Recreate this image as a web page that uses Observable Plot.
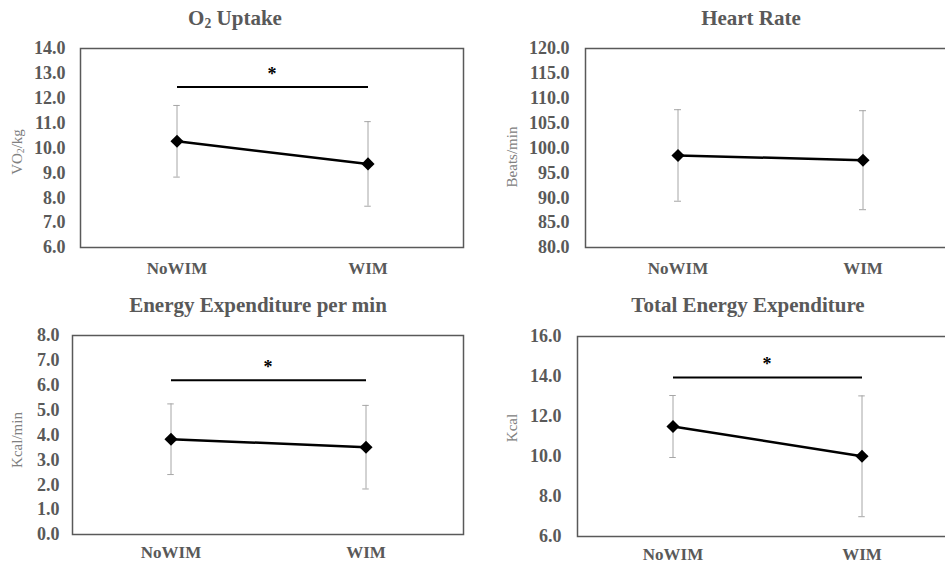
<!DOCTYPE html>
<html>
<head>
<meta charset="utf-8">
<script src="https://cdn.jsdelivr.net/npm/d3@7"></script>
<script src="https://cdn.jsdelivr.net/npm/@observablehq/plot@0.6"></script>
<style>
  html, body { margin: 0; padding: 0; background: #fff; }
  #root { position: relative; width: 945px; height: 563px; overflow: hidden; background: #fff;
          font-family: 'Liberation Serif', 'Times New Roman', serif; }
  .panel { position: absolute; }
  .panel svg { max-width: none !important; display: block; }
  .panel svg text { font-family: 'Liberation Serif', 'Times New Roman', serif !important; }
  .title { position: absolute; transform: translateX(-50%); white-space: nowrap; font-size: 21px; line-height: 21px;
           font-weight: bold; color: #595959; }
  .title sub { font-size: 0.65em; vertical-align: -0.25em; line-height: 0; }
  .ylab { position: absolute; transform: translate(-50%, -50%) rotate(-90deg); white-space: nowrap; font-size: 15px;
          line-height: 15px; color: #808080; }
  .ylab sub { font-size: 0.65em; vertical-align: -0.25em; line-height: 0; }
</style>
</head>
<body>
<div id="root"></div>
<script>
// ---- Data ----
const groups = ["NoWIM", "WIM"];

const o2Mean = [10.27, 9.36];
const o2SD = [1.44, 1.70];
const o2Ticks = [6, 7, 8, 9, 10, 11, 12, 13, 14];
const o2Sig = 12.45;

const hrMean = [98.5, 97.55];
const hrSD = [9.2, 9.95];
const hrTicks = [80, 85, 90, 95, 100, 105, 110, 115, 120];
const hrSig = null;

const eeMean = [3.83, 3.51];
const eeSD = [1.42, 1.68];
const eeTicks = [0, 1, 2, 3, 4, 5, 6, 7, 8];
const eeSig = 6.2;

const teMean = [11.5, 10.01];
const teSD = [1.55, 3.02];
const teTicks = [6, 8, 10, 12, 14, 16];
const teSig = 13.95;

const titles = ["O<sub>2</sub> Uptake", "Heart Rate", "Energy Expenditure per min", "Total Energy Expenditure"];
const yLabels = ["VO<sub>2</sub>/kg", "Beats/min", "Kcal/min", "Kcal"];

// ---- Drawing ----
const root = document.getElementById("root");

function panel({means, sds, ticks, sig, left, top, width, height, ml, mr, mt, mb, xpad, ypad}) {
  const data = groups.map((g, i) => ({g, m: means[i], lo: means[i] - sds[i], hi: means[i] + sds[i]}));
  const bw = (width - ml - mr) / 2;
  const capInset = (bw - 7) / 2;
  const sigData = sig == null ? [] : [{from: groups[0], to: groups[1], y: sig}];
  const chart = Plot.plot({
    width, height,
    marginLeft: ml, marginRight: mr, marginTop: mt, marginBottom: mb,
    x: {type: "band", domain: groups, padding: 0},
    y: {domain: [ticks[0], ticks[ticks.length - 1]]},
    style: {fontFamily: "'Liberation Serif', 'Times New Roman', serif", background: "transparent", overflow: "visible"},
    marks: [
      Plot.frame({stroke: "#595959", strokeWidth: 1.5}),
      Plot.axisY({ticks, tickFormat: d => d.toFixed(1), tickSize: 0, tickPadding: ypad, fontSize: 18,
                  fontWeight: "bold", fill: "#595959", label: null}),
      Plot.axisX({tickSize: 0, tickPadding: xpad, fontSize: 17, fontWeight: "bold", fill: "#595959", label: null}),
      Plot.link(sigData, {x1: "from", x2: "to", y1: "y", y2: "y", stroke: "#000", strokeWidth: 2}),
      Plot.text(sigData, {y: "y", text: () => "*", dy: -13, fontSize: 18, fontWeight: "bold", fill: "#000"}),
      Plot.ruleX(data, {x: "g", y1: "lo", y2: "hi", stroke: "#a6a6a6", strokeWidth: 1}),
      Plot.tickY(data, {x: "g", y: "hi", stroke: "#a6a6a6", strokeWidth: 1, insetLeft: capInset, insetRight: capInset}),
      Plot.tickY(data, {x: "g", y: "lo", stroke: "#a6a6a6", strokeWidth: 1, insetLeft: capInset, insetRight: capInset}),
      Plot.line(data, {x: "g", y: "m", stroke: "#000", strokeWidth: 2.5}),
      Plot.dot(data, {x: "g", y: "m", symbol: "diamond2", r: 5.9, fill: "#000", stroke: "none"})
    ]
  });
  const wrap = document.createElement("div");
  wrap.className = "panel";
  wrap.style.left = left + "px";
  wrap.style.top = top + "px";
  wrap.style.width = width + "px";
  wrap.style.height = height + "px";
  wrap.appendChild(chart);
  root.appendChild(wrap);
}

panel({means: o2Mean, sds: o2SD, ticks: o2Ticks, sig: o2Sig,
       left: 0, top: 0, width: 472, height: 282, ml: 80, mr: 9, mt: 48, mb: 35, xpad: 14, ypad: 15});
panel({means: hrMean, sds: hrSD, ticks: hrTicks, sig: hrSig,
       left: 472, top: 0, width: 493, height: 282, ml: 113, mr: 10, mt: 48, mb: 35, xpad: 14, ypad: 16});
panel({means: eeMean, sds: eeSD, ticks: eeTicks, sig: eeSig,
       left: 0, top: 282, width: 472, height: 281, ml: 72, mr: 9, mt: 53, mb: 29, xpad: 11, ypad: 13});
panel({means: teMean, sds: teSD, ticks: teTicks, sig: teSig,
       left: 472, top: 282, width: 493, height: 281, ml: 105, mr: 9, mt: 54, mb: 27, xpad: 11, ypad: 16});

// Titles and y-axis labels
const titlePos = [[235, 8], [751, 8], [258, 295], [748, 295]];
const ylabPos = [[17, 152], [512, 157], [17, 440], [512, 428]];
titles.forEach((t, i) => {
  const d = document.createElement("div");
  d.className = "title";
  d.innerHTML = t;
  d.style.left = titlePos[i][0] + "px";
  d.style.top = titlePos[i][1] + "px";
  root.appendChild(d);
});
yLabels.forEach((t, i) => {
  const d = document.createElement("div");
  d.className = "ylab";
  d.innerHTML = t;
  d.style.left = ylabPos[i][0] + "px";
  d.style.top = ylabPos[i][1] + "px";
  root.appendChild(d);
});
</script>
</body>
</html>
